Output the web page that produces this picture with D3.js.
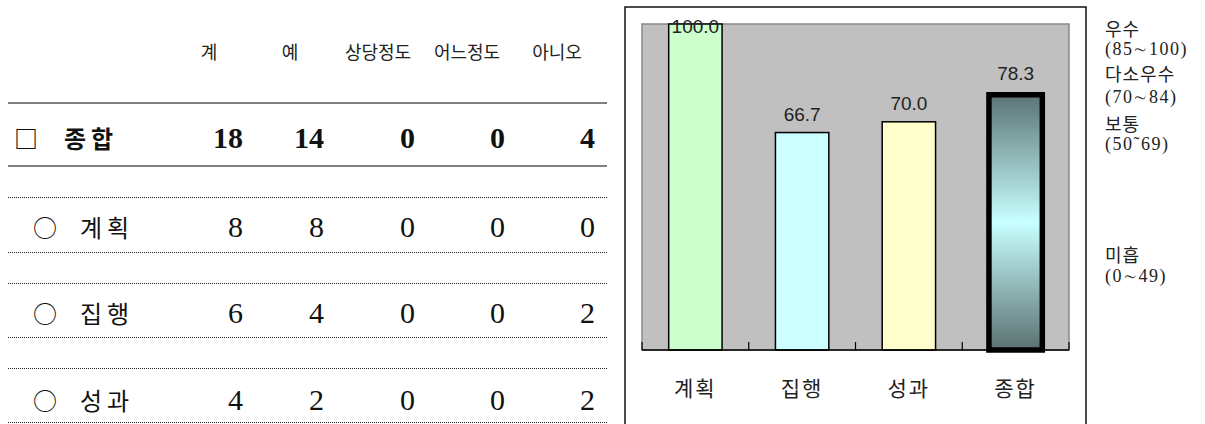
<!DOCTYPE html>
<html lang="ko">
<head>
    <meta charset="UTF-8">
    <title>평가 결과</title>
    <script src="https://cdnjs.cloudflare.com/ajax/libs/d3/7.8.5/d3.min.js"></script>
    <style>
        body { margin: 0; background: #fff; }
        .hdr { font: 18px "Noto Sans CJK KR", sans-serif; fill: #222; }
        .num { font: 30px "Liberation Serif", serif; fill: #111; }
        .num.total { font-weight: bold; }
        .rowlab { font: 24px "Noto Sans CJK KR", sans-serif; fill: #111; }
        .rowlab.total { font-weight: bold; }
        .val { font: 19px "Liberation Sans", Arial, sans-serif; fill: #222; }
        .cat { font: 21px "Noto Sans CJK KR", sans-serif; fill: #222; }
        .grade { font: 18px "Liberation Serif", "Noto Sans CJK KR", serif; fill: #222; }
    </style>
</head>
<body>
    <svg width="1205" height="424"></svg>
    <script>
        // table data
        const tableHeaders = ["계", "예", "상당정도", "어느정도", "아니오"];
        const tableRows = ["종합", "계획", "집행", "성과"];
        const tableValues = [
            [18, 14, 0, 0, 4],
            [8, 8, 0, 0, 0],
            [6, 4, 0, 0, 2],
            [4, 2, 0, 0, 2]
        ];

        // chart data
        const categories = ["계획", "집행", "성과", "종합"];
        const scores = [100.0, 66.7, 70.0, 78.3];
        const barColors = ["#CCFFCC", "#CCFFFF", "#FFFFCC", "url(#totalGrad)"];

        // grade notes on the right
        const gradeNotes = ["우수", "(85∼100)", "다소우수", "(70∼84)", "보통", "(50˜69)", "미흡", "(0∼49)"];

        const svg = d3.select("svg");

        // ---- table ----
        const headerX = [209, 290, 378, 467, 557];
        const numRight = [243, 324, 415, 505, 595];
        const rowMid = [137, 226, 312, 399];

        svg.selectAll(".hdr")
            .data(tableHeaders)
            .enter().append("text")
            .attr("class", "hdr")
            .attr("x", (d, i) => headerX[i])
            .attr("y", 51)
            .attr("text-anchor", "middle")
            .attr("dominant-baseline", "central")
            .text(d => d);

        // solid rules around the total row
        [103, 166].forEach(y => {
            svg.append("line")
                .attr("x1", 8).attr("x2", 607)
                .attr("y1", y).attr("y2", y)
                .attr("stroke", "#555").attr("stroke-width", 1.5);
        });
        // dotted rules around the other rows
        [197, 252, 283, 337, 368, 422].forEach(y => {
            svg.append("line")
                .attr("x1", 8).attr("x2", 607)
                .attr("y1", y + 0.5).attr("y2", y + 0.5)
                .attr("stroke", "#222").attr("stroke-width", 1)
                .attr("stroke-dasharray", "1,1");
        });

        tableRows.forEach((name, r) => {
            const total = r === 0;
            const g = svg.append("g");
            g.append("text")
                .attr("class", "rowlab" + (total ? " total" : ""))
                .attr("x", total ? 14 : 33)
                .attr("y", rowMid[r])
                .attr("dominant-baseline", "central")
                .text(total ? "□" : "○");
            g.append("text")
                .attr("class", "rowlab" + (total ? " total" : ""))
                .attr("x", total ? 64 : 80)
                .attr("y", rowMid[r])
                .attr("dominant-baseline", "central")
                .attr("letter-spacing", 5)
                .text(name);
            g.selectAll(".num")
                .data(tableValues[r])
                .enter().append("text")
                .attr("class", "num" + (total ? " total" : ""))
                .attr("x", (d, i) => numRight[i])
                .attr("y", rowMid[r] + 11)
                .attr("text-anchor", "end")
                .text(d => d);
        });

        // ---- bar chart ----
        const defs = svg.append("defs");
        const grad = defs.append("linearGradient")
            .attr("id", "totalGrad")
            .attr("x1", 0).attr("y1", 0).attr("x2", 0).attr("y2", 1);
        grad.append("stop").attr("offset", "0%").attr("stop-color", "#5B7474");
        grad.append("stop").attr("offset", "50%").attr("stop-color", "#C8FFFF");
        grad.append("stop").attr("offset", "100%").attr("stop-color", "#5B7070");

        // outer frame
        svg.append("rect")
            .attr("x", 625).attr("y", 7)
            .attr("width", 461).attr("height", 430)
            .attr("fill", "#fff")
            .attr("stroke", "#111").attr("stroke-width", 1.5);

        const plot = { left: 642, right: 1069, top: 24, bottom: 350 };

        const x = d3.scaleBand()
            .domain(categories)
            .range([plot.left, plot.right])
            .paddingInner(0.5)
            .paddingOuter(0.25);

        const y = d3.scaleLinear()
            .domain([0, 100])
            .range([plot.bottom, plot.top]);

        svg.append("rect")
            .attr("x", plot.left).attr("y", plot.top)
            .attr("width", plot.right - plot.left)
            .attr("height", plot.bottom - plot.top)
            .attr("fill", "#C0C0C0")
            .attr("stroke", "#888").attr("stroke-width", 1.5);

        svg.selectAll(".bar")
            .data(scores)
            .enter().append("rect")
            .attr("class", "bar")
            .attr("x", (d, i) => x(categories[i]))
            .attr("y", d => y(d))
            .attr("width", x.bandwidth())
            .attr("height", d => y(0) - y(d))
            .attr("fill", (d, i) => barColors[i])
            .attr("stroke", "#000")
            .attr("stroke-width", (d, i) => i === 3 ? 5.5 : 1.5);

        // axis line and inward ticks at band edges
        svg.append("line")
            .attr("x1", plot.left).attr("x2", plot.right)
            .attr("y1", plot.bottom).attr("y2", plot.bottom)
            .attr("stroke", "#000").attr("stroke-width", 1.5);
        d3.range(categories.length + 1).forEach(i => {
            const tx = plot.left + i * x.step();
            svg.append("line")
                .attr("x1", tx).attr("x2", tx)
                .attr("y1", plot.bottom).attr("y2", plot.bottom - 8)
                .attr("stroke", "#000").attr("stroke-width", 1.2);
        });

        // value labels
        svg.selectAll(".val")
            .data(scores)
            .enter().append("text")
            .attr("class", "val")
            .attr("x", (d, i) => x(categories[i]) + x.bandwidth() / 2)
            .attr("y", (d, i) => Math.max(y(d) - (i === 3 ? 15 : 12), 33))
            .attr("text-anchor", "middle")
            .text(d => d.toFixed(1));

        // category labels
        svg.selectAll(".cat")
            .data(categories)
            .enter().append("text")
            .attr("class", "cat")
            .attr("x", d => x(d) + x.bandwidth() / 2)
            .attr("y", 387)
            .attr("text-anchor", "middle")
            .attr("dominant-baseline", "central")
            .attr("letter-spacing", 2)
            .text(d => d);

        // grade notes
        const noteY = [36, 55, 81, 103, 131, 150, 262, 282];
        svg.selectAll(".grade")
            .data(gradeNotes)
            .enter().append("text")
            .attr("class", "grade")
            .attr("x", 1105)
            .attr("y", (d, i) => noteY[i])
            .attr("letter-spacing", (d, i) => i % 2 ? 1.5 : 1)
            .text(d => d);
    </script>
</body>
</html>
